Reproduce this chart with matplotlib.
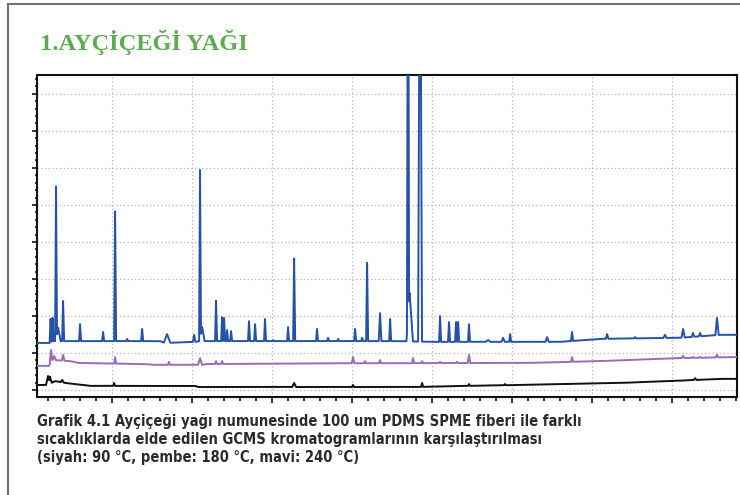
import numpy as np
import matplotlib
matplotlib.use('Agg')
import matplotlib.pyplot as plt
from matplotlib.lines import Line2D
from matplotlib.ticker import MultipleLocator
from matplotlib import font_manager

# retention time (min) / intensity (x1e6)
# baselines: breakpoints (time, level)
blue_base_t = [5.3, 6.13, 6.25, 13.0, 13.3, 15.2, 15.5, 21.75, 28.0, 29.9, 38.0, 40.5, 45.5, 48.0, 49.1]
blue_base_y = [1.27, 1.27, 1.32, 1.32, 1.27, 1.30, 1.32, 1.32, 1.32, 1.30, 1.30, 1.38, 1.41, 1.49, 1.49]
pink_base_t = [5.3, 6.06, 6.25, 7.38, 7.88, 12.0, 12.56, 15.69, 15.88, 24.63, 36.0, 40.5, 45.5, 49.1]
pink_base_y = [0.65, 0.65, 0.81, 0.78, 0.73, 0.70, 0.68, 0.68, 0.70, 0.72, 0.73, 0.78, 0.86, 0.89]
black_base_t = [5.3, 5.94, 6.44, 7.06, 8.63, 15.19, 15.38, 29.0, 32.25, 35.5, 38.0, 41.75, 44.88, 48.0, 49.1]
black_base_y = [0.135, 0.135, 0.24, 0.19, 0.11, 0.11, 0.08, 0.08, 0.11, 0.135, 0.16, 0.19, 0.24, 0.30, 0.30]

# peaks: retention time, apex intensity, half width
blue_rt = [6.16, 6.28, 6.5, 6.63, 6.94, 8.0, 9.44, 10.19, 10.94, 11.88, 13.44, 15.13, 15.5, 15.63,
           16.5, 16.88, 17.0, 17.19, 17.44, 18.56, 18.94, 19.56, 20.06, 21.0, 21.38, 22.81, 23.5,
           24.13, 25.19, 25.63, 25.94, 26.75, 27.38, 28.6, 28.5, 29.25, 30.5, 31.06, 31.5, 31.63,
           32.31, 33.5, 34.44, 34.88, 37.19, 38.75, 40.94, 42.69, 44.56, 45.69, 46.31, 46.75, 47.81]
blue_apex = [1.92, 1.95, 5.51, 1.68, 2.41, 1.78, 1.57, 4.84, 1.38, 1.65, 1.51, 1.49, 5.95, 1.70,
             2.41, 1.97, 1.95, 1.62, 1.59, 1.86, 1.78, 1.92, 1.35, 1.70, 3.57, 1.65, 1.41,
             1.38, 1.65, 1.41, 3.46, 2.08, 1.92, 2.62, 15.0, 15.0, 2.00, 1.84, 1.84, 1.84,
             1.78, 1.35, 1.41, 1.51, 1.43, 1.57, 1.51, 1.43, 1.49, 1.65, 1.54, 1.54, 1.95]
blue_w = [0.06, 0.06, 0.06, 0.15, 0.06, 0.06, 0.06, 0.06, 0.06, 0.06, 0.2, 0.08, 0.06, 0.15,
          0.06, 0.06, 0.06, 0.06, 0.06, 0.06, 0.06, 0.06, 0.06, 0.06, 0.06, 0.06, 0.06,
          0.06, 0.06, 0.06, 0.06, 0.08, 0.06, 0.2, 0.07, 0.12, 0.06, 0.06, 0.06, 0.06,
          0.06, 0.15, 0.1, 0.06, 0.1, 0.06, 0.08, 0.06, 0.1, 0.1, 0.08, 0.08, 0.1]

pink_rt = [6.19, 6.38, 6.94, 10.19, 13.56, 15.5, 16.5, 16.88, 25.06, 25.81, 26.75, 28.81, 29.38,
           30.5, 31.56, 32.31, 38.75, 44.56, 45.69, 46.31, 46.75, 47.81]
pink_apex = [1.08, 0.92, 0.95, 0.89, 0.76, 0.86, 0.78, 0.78, 0.89, 0.78, 0.81, 0.86, 0.78,
             0.76, 0.76, 0.95, 0.89, 0.84, 0.92, 0.89, 0.89, 0.95]
pink_w = [0.08, 0.1, 0.08, 0.06, 0.06, 0.12, 0.06, 0.06, 0.08, 0.06, 0.06, 0.06, 0.06,
          0.06, 0.06, 0.08, 0.06, 0.08, 0.08, 0.06, 0.06, 0.08]

black_rt = [6.0, 6.12, 6.88, 10.13, 21.38, 25.06, 29.38, 32.31, 34.56, 46.44]
black_apex = [0.38, 0.36, 0.27, 0.19, 0.19, 0.135, 0.19, 0.16, 0.16, 0.32]
black_w = [0.12, 0.12, 0.1, 0.06, 0.12, 0.06, 0.06, 0.06, 0.06, 0.08]


def trace(t, base_t, base_y, rt, apex, w):
    y = np.interp(t, base_t, base_y)
    out = y.copy()
    for r, a, hw in zip(rt, apex, w):
        foot = np.interp(r, base_t, base_y)
        tri = foot + (a - foot) * np.clip(1 - np.abs(t - r) / hw, 0, None)
        out = np.maximum(out, np.where(np.abs(t - r) < hw, tri, out))
    return out


t = np.linspace(5.3, 49.1, 30000)

# dar (condensed) kalin yazi tipi varsa onu kullan
fonts = font_manager.fontManager.ttflist
names = {f.name for f in fonts}
cap_kw = dict(family=['DejaVu Sans'], fontsize=9.4)
if 'Liberation Sans Narrow' in names:
    cap_kw = dict(family=['Liberation Sans Narrow', 'DejaVu Sans'], fontsize=10.8)
elif any(f.name == 'DejaVu Sans' and f.stretch == 'condensed' for f in fonts):
    cap_kw = dict(family=['DejaVu Sans'], fontstretch='condensed', fontsize=10.5)
elif 'Roboto' in names:
    cap_kw = dict(family=['Roboto', 'DejaVu Sans'], fontsize=10.4)

fig = plt.figure(figsize=(7.4, 4.95), dpi=100)
ax = fig.add_axes([37 / 740, 1 - 397 / 495, 700 / 740, 322 / 495])

ax.plot(t, trace(t, blue_base_t, blue_base_y, blue_rt, blue_apex, blue_w),
        color='#2352a8', lw=1.4, zorder=3)
ax.plot(t, trace(t, pink_base_t, pink_base_y, pink_rt, pink_apex, pink_w),
        color='#9a6cb8', lw=1.4, zorder=3)
ax.plot(t, trace(t, black_base_t, black_base_y, black_rt, black_apex, black_w),
        color='#111111', lw=1.4, zorder=3)

ax.set_xlim(5.31, 49.06)
ax.set_ylim(-0.19, 8.51)

# eksenler
ax.xaxis.set_major_locator(MultipleLocator(5))
ax.xaxis.set_minor_locator(MultipleLocator(1))
ax.yaxis.set_major_locator(MultipleLocator(1))
ax.yaxis.set_minor_locator(MultipleLocator(0.2))
ax.tick_params(axis='x', which='major', length=4.5, width=1.1, direction='out', labelbottom=False)
ax.tick_params(axis='x', which='minor', length=3, width=1.1, direction='out')
ax.tick_params(axis='y', which='major', length=3.8, width=1.1, direction='out', labelleft=False)
ax.tick_params(axis='y', which='minor', length=1.8, width=1.1, direction='out')
for s in ax.spines.values():
    s.set_linewidth(1.5)
    s.set_color('#111111')

ax.grid(True, which='major', linestyle=(0, (1, 2)), color='#b5b5b5', linewidth=0.9)
ax.set_axisbelow(True)

# baslik
fig.text(40 / 740, 1 - 50 / 495, '1.AYÇİÇEĞİ YAĞI', family=['Liberation Serif', 'DejaVu Serif'],
         weight='bold', fontsize=17.6, color='#5aad4e', ha='left', va='baseline')

# alt yazi
caption = ['Grafik 4.1 Ayçiçeği yağı numunesinde 100 um PDMS SPME fiberi ile farklı',
           'sıcaklıklarda elde edilen GCMS kromatogramlarının karşılaştırılması',
           '(siyah: 90 °C, pembe: 180 °C, mavi: 240 °C)']
for i, line in enumerate(caption):
    fig.text(37 / 740, 1 - (426 + 18 * i) / 495, line, weight='bold',
             color='#2b2b2b', ha='left', va='baseline', **cap_kw)

# cerceve
fig.add_artist(Line2D([7.5 / 740, 1], [1 - 3.5 / 495, 1 - 3.5 / 495], color='#707070', lw=1.5))
fig.add_artist(Line2D([7.5 / 740, 7.5 / 740], [0, 1 - 3.5 / 495], color='#707070', lw=1.5))

plt.savefig('out.png', dpi=100)
